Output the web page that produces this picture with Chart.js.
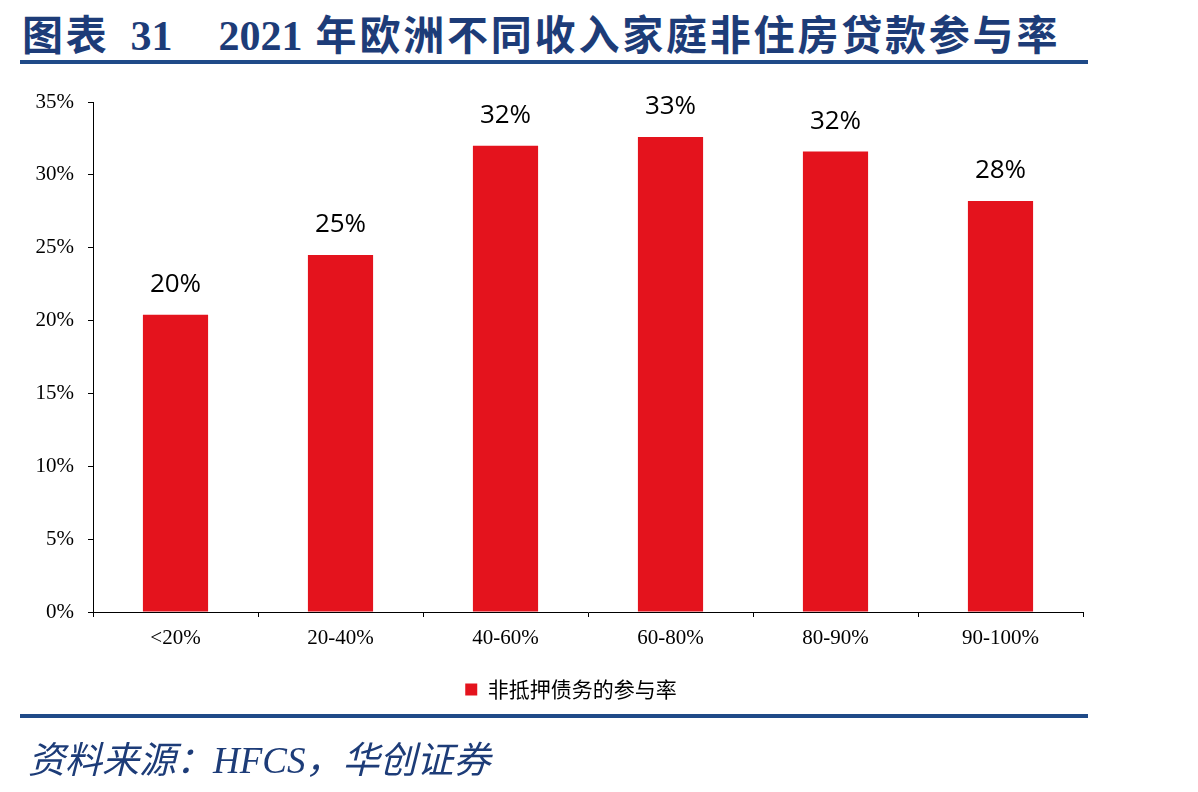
<!DOCTYPE html>
<html>
<head>
<meta charset="utf-8">
<script src="https://cdn.jsdelivr.net/npm/chart.js@4/dist/chart.umd.min.js"></script>
<style>
    html, body { margin: 0; padding: 0; background: #fff; }
    #page { position: relative; width: 1198px; height: 792px; overflow: hidden; }
    #title { position: absolute; left: 22px; top: 2px; font-family: "Liberation Serif", "Noto Sans CJK SC", serif; font-weight: bold; font-size: 42px; color: #1d3c78; white-space: nowrap; }
    #title .cjk { font-size: 41px; letter-spacing: 2.8px; }
    .rule { position: absolute; left: 20px; width: 1068px; height: 4px; background: #1f4a88; }
    #source { position: absolute; left: 28px; top: 730px; font-family: "Liberation Serif", "Noto Sans CJK SC", serif; font-style: italic; font-size: 37px; color: #1d3c78; white-space: nowrap; }
    #chart-wrap { position: absolute; left: 0; top: 0; width: 1198px; height: 792px; }
</style>
</head>
<body>
<div id="page">
    <div id="title"><span class="cjk">图表</span><span style="margin-left:21px">31</span><span style="margin-left:46px">2021</span><span class="cjk" style="margin-left:13px">年欧洲不同收入家庭非住房贷款参与率</span></div>
    <div class="rule" style="top:60px"></div>
    <div id="chart-wrap"><canvas id="bar-chart" width="1198" height="792"></canvas></div>
    <div class="rule" style="top:714px"></div>
    <div id="source">资料来源：HFCS，华创证券</div>
</div>
<script>
// 收入分位
const incomeGroups = ["<20%", "20-40%", "40-60%", "60-80%", "80-90%", "90-100%"];
// 非抵押债务的参与率 (%)
const participation = [20.4, 24.5, 32.0, 32.6, 31.6, 28.2];
const seriesName = "非抵押债务的参与率";
const yTicks = [0, 5, 10, 15, 20, 25, 30, 35];

const barRed = "#e4131d";

// 柱顶数值标签
const valueLabels = {
    id: "valueLabels",
    afterDatasetsDraw(chart) {
        const ctx = chart.ctx;
        const meta = chart.getDatasetMeta(0);
        ctx.save();
        ctx.font = "26px 'Open Sans', 'Liberation Sans', sans-serif";
        ctx.fillStyle = "#000";
        ctx.textAlign = "center";
        ctx.textBaseline = "alphabetic";
        meta.data.forEach((bar, i) => {
            ctx.fillText(Math.round(participation[i]) + "%", bar.x, bar.y - 23);
        });
        ctx.restore();
    }
};

new Chart(document.getElementById("bar-chart").getContext("2d"), {
    type: "bar",
    data: {
        labels: incomeGroups,
        datasets: [{
            label: seriesName,
            data: participation,
            backgroundColor: barRed,
            borderWidth: 0,
            categoryPercentage: 1,
            barPercentage: 0.395
        }]
    },
    options: {
        responsive: false,
        animation: false,
        events: [],
        layout: {padding: {top: 102, left: 0, right: 56, bottom: 82}},
        plugins: {
            tooltip: {enabled: false},
            legend: {
                position: "bottom",
                labels: {
                    boxWidth: 12,
                    boxHeight: 12,
                    padding: 10,
                    color: "#000",
                    font: {family: "'Noto Sans CJK SC', sans-serif", size: 21}
                }
            }
        },
        scales: {
            x: {
                border: {display: true, color: "#000", width: 1},
                grid: {display: true, drawOnChartArea: false, offset: true, tickLength: 5, color: "#000"},
                ticks: {color: "#000", padding: 9, maxRotation: 0, font: {family: "'Liberation Serif', serif", size: 21}},
                afterFit: (scale) => { scale.height = 57; }
            },
            y: {
                min: 0,
                max: 35,
                afterBuildTicks: (scale) => { scale.ticks = yTicks.map(v => ({value: v})); },
                border: {display: true, color: "#000", width: 1},
                grid: {display: true, drawOnChartArea: false, tickLength: 5, color: "#000"},
                ticks: {color: "#000", padding: 14, callback: (v) => v + "%", font: {family: "'Liberation Serif', serif", size: 21}},
                afterFit: (scale) => { scale.width = 93; }
            },
            // empty right-hand spacer so the legend sits where it does in the original
            spacer: {
                type: "linear",
                position: "right",
                border: {display: false},
                grid: {display: false},
                ticks: {display: false},
                afterFit: (scale) => { scale.width = 59; }
            }
        }
    },
    plugins: [valueLabels]
});
</script>
</body>
</html>
